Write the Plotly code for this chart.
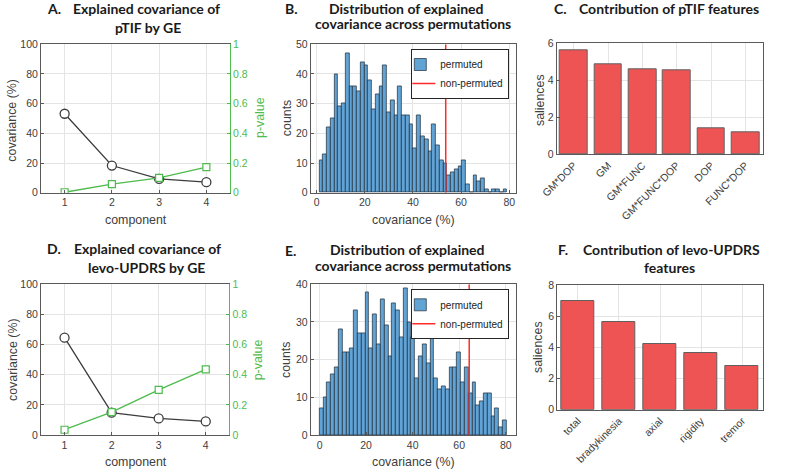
import plotly.graph_objects as go

W, H = 789, 470

# --- data ---
COMPONENTS = [1, 2, 3, 4]
PTIF_COV = [53.2, 18.3, 9.3, 7.1]
PTIF_P = [0.003, 0.058, 0.10, 0.172]
UPDRS_COV = [64.6, 14.8, 11.0, 9.0]
UPDRS_P = [0.035, 0.152, 0.30, 0.436]

PTIF_PERM_COUNTS = [11, 13, 22, 25, 40, 29, 30, 47, 36, 36, 34, 44, 43, 38, 28, 33, 36,
                    43, 27, 31, 26, 36, 26, 26, 23, 15, 26, 19, 18, 14, 23, 16, 11, 10,
                    6, 7, 8, 9, 11, 3, 0, 6, 4, 5, 1, 0, 1, 1, 0, 1]
PTIF_BIN_START = 1.08
PTIF_BIN_WIDTH = 1.56
PTIF_OBSERVED = 53.6

UPDRS_PERM_COUNTS = [7, 10, 14, 16, 18, 28, 22, 22, 23, 33, 27, 27, 38, 23, 32, 24, 36,
                     29, 21, 35, 33, 26, 39, 30, 26, 15, 21, 24, 19, 31, 15, 12, 13, 12,
                     18, 18, 22, 14, 18, 11, 14, 8, 9, 11, 11, 5, 7, 2, 4]
UPDRS_BIN_START = 0.0
UPDRS_BIN_WIDTH = 1.64
UPDRS_OBSERVED = 64.3

PTIF_FEATURES = ["GM*DOP", "GM", "GM*FUNC", "GM*FUNC*DOP", "DOP", "FUNC*DOP"]
PTIF_SALIENCES = [5.6, 4.88, 4.62, 4.54, 1.39, 1.17]
UPDRS_FEATURES = ["total", "bradykinesia", "axial", "rigidity", "tremor"]
UPDRS_SALIENCES = [6.99, 5.65, 4.19, 3.61, 2.82]

# --- styling ---
TICK_FONT = "Liberation Sans"
TITLE_FONT = "Lato"
TEXT_COL = "#404040"
AXIS_COL = "#5a5a5a"
GRID_COL = "#e4e4e4"
GREEN = "#4dbb4d"
DARK = "#3d3d3d"
HIST_COL = "rgb(96,163,212)"
HIST_EDGE = "#1d2b3a"
SAL_COL = "#ef5454"
RED = "#ff2a2a"


def px(x):
    return x / W


def py(y):
    return 1 - y / H


def box_axis(**kw):
    d = dict(showline=True, linecolor=AXIS_COL, linewidth=1, mirror=True,
             ticks="inside", ticklen=3, tickcolor=AXIS_COL,
             showgrid=True, gridcolor=GRID_COL, gridwidth=1, zeroline=False,
             tickfont=dict(family=TICK_FONT, size=10.5, color=TEXT_COL))
    d.update(kw)
    return d


fig = go.Figure()

# A / D : explained covariance + p-value
for xa, ya, ya2, cov, pv in [("x", "y", "y2", PTIF_COV, PTIF_P),
                             ("x5", "y5", "y6", UPDRS_COV, UPDRS_P)]:
    fig.add_trace(go.Scatter(
        x=COMPONENTS, y=cov, xaxis=xa, yaxis=ya, mode="lines+markers",
        line=dict(color=DARK, width=1.3),
        marker=dict(symbol="circle", size=9, color="white", line=dict(color=DARK, width=1.3)),
        showlegend=False))
    fig.add_trace(go.Scatter(
        x=COMPONENTS, y=pv, xaxis=xa, yaxis=ya2, mode="lines+markers",
        line=dict(color=GREEN, width=1.3),
        marker=dict(symbol="square", size=7, color="white", line=dict(color=GREEN, width=1.2)),
        showlegend=False))

# B / E : permutation histograms
for xa, ya, counts, start, width, obs, ymax, leg in [
        ("x3", "y3", PTIF_PERM_COUNTS, PTIF_BIN_START, PTIF_BIN_WIDTH, PTIF_OBSERVED, 50, "legend"),
        ("x7", "y7", UPDRS_PERM_COUNTS, UPDRS_BIN_START, UPDRS_BIN_WIDTH, UPDRS_OBSERVED, 40, "legend2")]:
    fig.add_trace(go.Bar(
        x0=start + width / 2, dx=width, y=counts, width=width,
        xaxis=xa, yaxis=ya, name="permuted", legend=leg,
        marker=dict(color=HIST_COL, line=dict(color=HIST_EDGE, width=0.7))))
    fig.add_trace(go.Scatter(
        x=[obs, obs], y=[0, ymax], xaxis=xa, yaxis=ya, mode="lines",
        name="non-permuted", legend=leg, line=dict(color=RED, width=1.5)))

# C / F : saliences
for xa, ya, feats, sal in [("x4", "y4", PTIF_FEATURES, PTIF_SALIENCES),
                           ("x8", "y8", UPDRS_FEATURES, UPDRS_SALIENCES)]:
    fig.add_trace(go.Bar(
        x=feats, y=sal, xaxis=xa, yaxis=ya, width=0.8, showlegend=False,
        marker=dict(color=SAL_COL, line=dict(color="#606060", width=1))))

top_dom = [py(192.7), py(44.3)]
bot_dom = [py(435), py(284.3)]

legend_common = dict(xanchor="right", yanchor="top", bgcolor="white",
                     bordercolor="#262626", borderwidth=1, tracegroupgap=0,
                     itemwidth=30, indentation=-12,
                     font=dict(family=TICK_FONT, size=10, color="#222222"))

fig.update_layout(
    width=W, height=H,
    margin=dict(l=0, r=0, t=0, b=0, pad=0, autoexpand=False),
    paper_bgcolor="white", plot_bgcolor="white",
    bargap=0,
    # A
    xaxis=box_axis(domain=[px(41), px(230)], anchor="y", range=[0.5, 4.5],
                   tickvals=COMPONENTS),
    yaxis=box_axis(domain=top_dom, anchor="x", range=[0, 100], dtick=20, mirror=False),
    yaxis2=box_axis(overlaying="y", anchor="x", side="right", range=[0, 1], dtick=0.2,
                    showgrid=False, mirror=False, linecolor=GREEN, tickcolor=GREEN,
                    tickfont=dict(family=TICK_FONT, size=10.5, color=GREEN)),
    # B
    xaxis3=box_axis(domain=[px(310.7), px(516)], anchor="y3", range=[-2.5, 82.8],
                    tickvals=[0, 20, 40, 60, 80]),
    yaxis3=box_axis(domain=top_dom, anchor="x3", range=[0, 50], dtick=10),
    # C
    xaxis4=box_axis(domain=[px(556.7), px(762.7)], anchor="y4", range=[-0.5, 5.5],
                    tickangle=-45, ticks=""),
    yaxis4=box_axis(domain=[py(154.3), py(43.3)], anchor="x4", range=[0, 6], dtick=2),
    # D
    xaxis5=box_axis(domain=[px(41), px(229.3)], anchor="y5", range=[0.5, 4.5],
                    tickvals=COMPONENTS),
    yaxis5=box_axis(domain=bot_dom, anchor="x5", range=[0, 100], dtick=20, mirror=False),
    yaxis6=box_axis(overlaying="y5", anchor="x5", side="right", range=[0, 1], dtick=0.2,
                    showgrid=False, mirror=False, linecolor=GREEN, tickcolor=GREEN,
                    tickfont=dict(family=TICK_FONT, size=10.5, color=GREEN)),
    # E
    xaxis7=box_axis(domain=[px(310.7), px(516)], anchor="y7", range=[-3.8, 84.4],
                    tickvals=[0, 20, 40, 60, 80]),
    yaxis7=box_axis(domain=bot_dom, anchor="x7", range=[0, 40], dtick=10),
    # F
    xaxis8=box_axis(domain=[px(557.3), px(762.7)], anchor="y8", range=[-0.5, 4.5],
                    tickangle=-45, ticks=""),
    yaxis8=box_axis(domain=[py(409.7), py(285)], anchor="x8", range=[0, 8], dtick=2),
    legend=dict(x=px(509.3), y=py(49), **legend_common),
    legend2=dict(x=px(509.3), y=py(289.3), **legend_common),
)

annotations = []


def note(text, x, y, size=12.4, color=TEXT_COL, family=TICK_FONT, angle=0, xanchor="center"):
    annotations.append(dict(text=text, x=px(x), y=py(y), xref="paper", yref="paper",
                            showarrow=False, xanchor=xanchor, yanchor="middle",
                            textangle=angle, font=dict(family=family, size=size, color=color)))


def title(text, x, y, xanchor="center"):
    note("<b>%s</b>" % text, x, y, size=14, color="#1a1a1a", family=TITLE_FONT, xanchor=xanchor)


# panel titles
title("A.", 45, 8.5, "left")
title("Explained covariance of", 146.7, 8.5)
title("pTIF by GE", 147.5, 28)
title("B.", 283.3, 8.5, "left")
title("Distribution of explained", 406.5, 8.5)
title("covariance across permutations", 412.5, 23.5)
title("C.", 551.7, 8.5, "left")
title("Contribution of pTIF features", 669, 8.5)
title("D.", 45, 248.3, "left")
title("Explained covariance of", 147, 248.3)
title("levo-UPDRS by GE", 146.7, 267.7)
title("E.", 282.7, 250, "left")
title("Distribution of explained", 407, 249.5)
title("covariance across permutations", 412.5, 265.5)
title("F.", 556, 249, "left")
title("Contribution of levo-UPDRS", 671, 249)
title("features", 669, 267.7)

# axis titles
note("covariance (%)", 11.7, 120, angle=-90)
note("component", 136, 220)
note("p-value", 260, 118, angle=-90, color=GREEN)
note("counts", 286.7, 117.5, angle=-90)
note("covariance (%)", 413, 220)
note("saliences", 540, 100, angle=-90)
note("covariance (%)", 13, 360, angle=-90)
note("component", 136, 462)
note("p-value", 258.3, 360, angle=-90, color=GREEN)
note("counts", 286, 360, angle=-90)
note("covariance (%)", 413, 462)
note("saliences", 538, 347, angle=-90)

fig.update_layout(annotations=annotations)

# the page body has a default 8px margin; drop it so the figure sits at the window corner
fig.write_html("out.html", config={"displayModeBar": False},
               post_script="document.body.style.margin = '0px';")
